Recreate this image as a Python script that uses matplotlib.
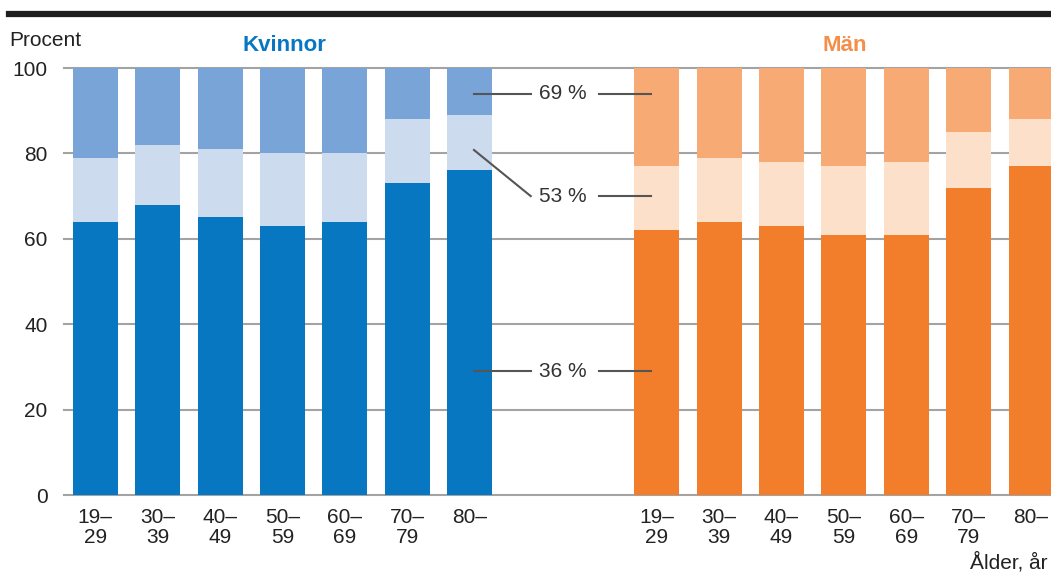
import numpy as np
import matplotlib.pyplot as plt
from matplotlib.lines import Line2D

plt.rcParams['font.family'] = ['Liberation Sans', 'DejaVu Sans']

# ---------------- Data ---------------- #
age_groups = ["19–\n29", "30–\n39", "40–\n49", "50–\n59", "60–\n69", "70–\n79", "80–"]
# share with cumulative levels (bottom segment, bottom+middle), percent
women_low = [64, 68, 65, 63, 64, 73, 76]
women_mid = [79, 82, 81, 80, 80, 88, 89]
men_low = [62, 64, 63, 61, 61, 72, 77]
men_mid = [77, 79, 78, 77, 78, 85, 88]
total = 100
annot_labels = ["69 %", "53 %", "36 %"]
annot_levels = [94, 70, 29]
yticks = [0, 20, 40, 60, 80, 100]

blue = ["#0877c1", "#cddbef", "#78a4d7"]
orange = ["#f27e2c", "#fde0ca", "#f7aa73"]

# ---------------- Plot ---------------- #
fig = plt.figure(figsize=(10.51, 5.72), dpi=100)
ax = fig.add_axes([0.061, 0.1346, 0.939, 0.7465])

w_pos = np.arange(len(age_groups))
m_pos = w_pos + 9
width = 0.72

for y in yticks:
    ax.axhline(y, color="#a3a3a3", lw=1.5, zorder=0, clip_on=False)


def stack(pos, low, mid, cols):
    low = np.array(low)
    mid = np.array(mid)
    ax.bar(pos, low, width, color=cols[0], zorder=2)
    ax.bar(pos, mid - low, width, bottom=low, color=cols[1], zorder=2)
    ax.bar(pos, total - mid, width, bottom=mid, color=cols[2], zorder=2)


stack(w_pos, women_low, women_mid, blue)
stack(m_pos, men_low, men_mid, orange)

ax.set_xlim(-0.5, 15.32)
ax.set_ylim(0, 100)
for s in ax.spines.values():
    s.set_visible(False)
ax.set_yticks(yticks)
ax.set_yticklabels([str(v) for v in yticks], fontsize=15, color="#222222")
ax.tick_params(axis="y", length=0, pad=12)
ax.set_xticks(np.concatenate([w_pos, m_pos]))
ax.set_xticklabels(age_groups * 2, fontsize=15, color="#222222", va="top",
                   linespacing=1.1)
ax.tick_params(axis="x", length=0, pad=9)

# annotations in the gap
tx = 7.5
lc = "#555555"
for lab, lev in zip(annot_labels, annot_levels):
    ax.text(tx, lev, lab, ha="center", va="center", fontsize=15, color="#333333")
    ax.plot([8.07, 8.9], [lev, lev], color=lc, lw=1.5, zorder=3)
ax.plot([6.07, 6.98], [annot_levels[0], annot_levels[0]], color=lc, lw=1.5, zorder=3)
ax.plot([6.07, 6.98], [80.8, annot_levels[1]], color=lc, lw=1.5, zorder=3)
ax.plot([6.07, 6.98], [annot_levels[2], annot_levels[2]], color=lc, lw=1.5, zorder=3)

# titles and labels
fig.text(0.271, 0.921, "Kvinnor", ha="center", va="center", fontsize=16,
         fontweight="bold", color="#0877c1")
fig.text(0.804, 0.921, "Män", ha="center", va="center", fontsize=16,
         fontweight="bold", color="#f48f4a")
fig.text(0.009, 0.93, "Procent", ha="left", va="center", fontsize=15, color="#222222")
fig.text(0.997, 0.0175, "Ålder, år", ha="right", va="center", fontsize=15, color="#222222")

fig.add_artist(Line2D([0.009, 1.0], [0.9755, 0.9755], color="#1e1e1e", lw=4.5,
                      transform=fig.transFigure))

fig.savefig("out.png", dpi=100)
